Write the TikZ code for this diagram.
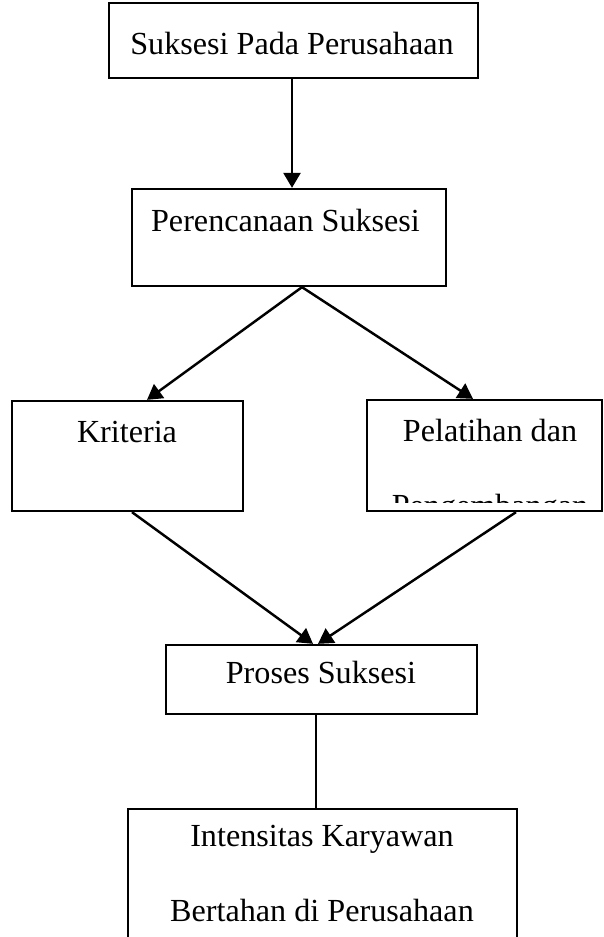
\documentclass[tikz,border=0pt]{standalone}
\usepackage{fontspec}
\setmainfont{Liberation Serif}
\usetikzlibrary{arrows.meta}
\begin{document}
\begin{tikzpicture}[
  box/.style={draw,line width=1.3pt,inner sep=0pt},
  txt/.style={anchor=base,inner sep=0pt,font=\fontsize{18.3}{22}\selectfont},
  arr/.style={line width=1.4pt,-{Triangle[length=0.3cm,width=0.34cm]}},
  link/.style={line width=1.4pt}]
% Page frame
\clip (0,0) rectangle (12.06,-18.74);

% Boxes
\node[box,minimum width=7.38cm,minimum height=1.50cm] (suksesi) at (5.87,-0.81) {};
\node[txt] at (5.84,-1.10) {Suksesi Pada Perusahaan};

\node[box,minimum width=6.28cm,minimum height=1.94cm] (perencanaan) at (5.78,-4.75) {};
\node[txt] at (5.71,-4.64) {Perencanaan Suksesi};

\node[box,minimum width=4.62cm,minimum height=2.20cm] (kriteria) at (2.55,-9.12) {};
\node[txt] at (2.54,-8.84) {Kriteria};

\node[box,minimum width=4.70cm,minimum height=2.22cm] (pelatihan) at (9.69,-9.11) {};
\begin{scope}
\clip (pelatihan.north west) rectangle (12.06,-10.04);
\node[txt] at (9.80,-8.82) {Pelatihan dan};
\node[txt] at (9.80,-10.32) {Pengembangan};
\end{scope}

\node[box,minimum width=6.22cm,minimum height=1.38cm] (proses) at (6.43,-13.59) {};
\node[txt] at (6.42,-13.66) {Proses Suksesi};

\node[box,minimum width=7.78cm,minimum height=3.32cm] (intensitas) at (6.45,-17.84) {};
\node[txt] at (6.44,-16.92) {Intensitas Karyawan};
\node[txt] at (6.44,-18.42) {Bertahan di Perusahaan};

% Connectors
\draw[arr] ([xshift=-0.03cm]suksesi.south) -- ([xshift=-0.03cm]suksesi.south |- perencanaan.north);
\draw[arr] ([xshift=0.26cm]perencanaan.south) -- ([xshift=0.39cm]kriteria.north);
\draw[arr] ([xshift=0.26cm]perencanaan.south) -- ([xshift=-0.23cm]pelatihan.north);
\draw[arr] ([xshift=0.09cm]kriteria.south) -- ([xshift=-0.17cm]proses.north);
\draw[arr] ([xshift=0.63cm]pelatihan.south) -- ([xshift=-0.07cm]proses.north);
\draw[link] ([xshift=-0.11cm]proses.south) -- ([xshift=-0.11cm]proses.south |- intensitas.north);
\end{tikzpicture}
\end{document}
